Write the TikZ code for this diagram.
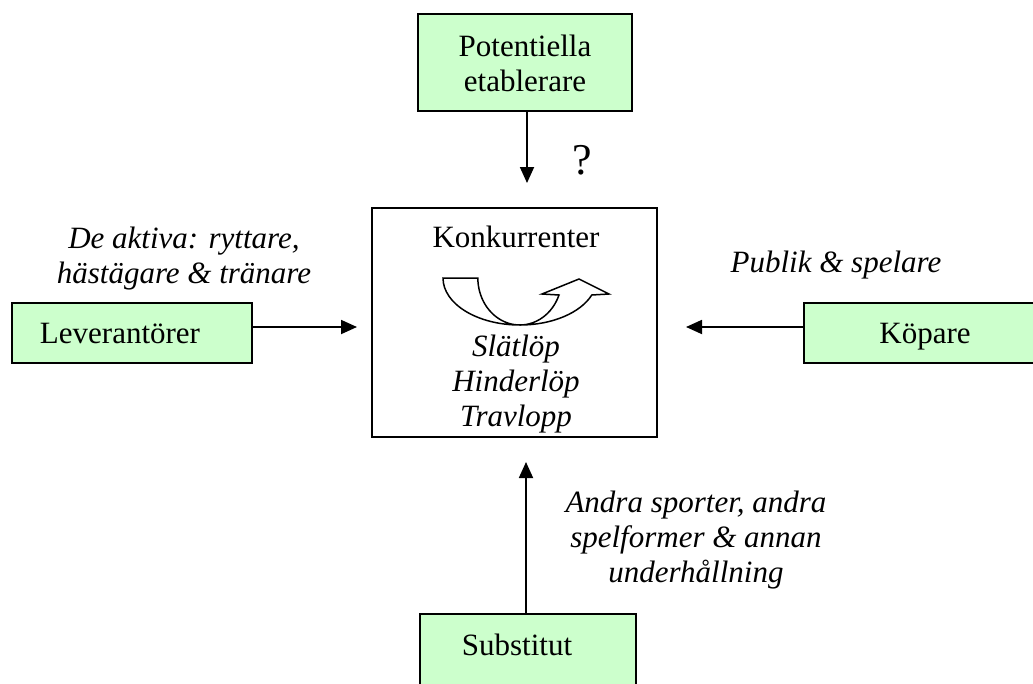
\documentclass[tikz,border=0pt]{standalone}
\usepackage{fontspec}
\setmainfont{Liberation Serif}
\usetikzlibrary{arrows.meta}
\definecolor{boxgreen}{HTML}{CCFFCC}

\begin{document}
\begin{tikzpicture}[x=1pt,y=-1pt,
  greenbox/.style={draw=black, line width=1.8pt, fill=boxgreen, rectangle, inner sep=0pt},
  plainbox/.style={draw=black, line width=1.8pt, fill=white, rectangle, inner sep=0pt},
  txt/.style={font=\fontsize{31}{35}\selectfont, inner sep=0pt, align=center, anchor=base},
  itxt/.style={txt, font=\fontsize{31}{35}\selectfont\itshape},
  conn/.style={line width=1.8pt, -{Triangle[length=16pt,width=14pt]}},
  turnarrow/.style={draw=black, line width=1.5pt, fill=white, line join=miter}]

\useasboundingbox (0,0) rectangle (1033,683);
\clip (0,0) rectangle (1033,683);

% boxes
\node[greenbox, minimum width=214, minimum height=97] (pot) at (525,62.5) {};
\node[plainbox, minimum width=285, minimum height=229] (konk) at (514.5,322.5) {};
\node[greenbox, minimum width=240, minimum height=60] (lev) at (132,333) {};
\node[greenbox, minimum width=246, minimum height=60] (kop) at (927,333) {};
\node[greenbox, minimum width=216, minimum height=86] (sub) at (528,657) {};

% box texts (multi-line nodes sit on the baseline of their last line)
\node[txt] (pottxt) at (525,91) {Potentiella\\etablerare};
\node[txt] (konktxt) at (516,247) {Konkurrenter};
\node[itxt] (grenar) at (516,426) {Slätlöp\\Hinderlöp\\Travlopp};
\node[txt] (levtxt) at (120,343) {Leverantörer};
\node[txt] (koptxt) at (925,343) {Köpare};
\node[txt] (subtxt) at (517,655) {Substitut};

% side labels
\node[itxt] (aktiva) at (184,283) {De aktiva: ryttare,\\hästägare \& tränare};
\node[itxt] (publik) at (836,272) {Publik \& spelare};
\node[itxt] (andra) at (696,582) {Andra sporter, andra\\spelformer \& annan\\underhållning};
\node[txt, font=\fontsize{44}{50}\selectfont] (fraga) at (582,174) {?};

% arrow tips
\coordinate (ttip) at (527,183);
\coordinate (ltip) at (357,327);
\coordinate (rtip) at (686,327);
\coordinate (btip) at (526,462);

\draw[conn] (pot.south -| ttip) -- (ttip);
\draw[conn] (lev.east |- ltip) -- (ltip);
\draw[conn] (kop.west |- rtip) -- (rtip);
\draw[conn] (sub.north -| btip) -- (btip);

% curved U-turn arrow inside the competitors box
\draw[turnarrow] (443,278)
  arc[start angle=180, end angle=21.2, x radius=77, y radius=47]
  -- (609,294) -- (579,279) -- (542,294) -- (559,295)
  arc[start angle=21.2, end angle=180, x radius=42, y radius=47]
  -- cycle;
\end{tikzpicture}
\end{document}
